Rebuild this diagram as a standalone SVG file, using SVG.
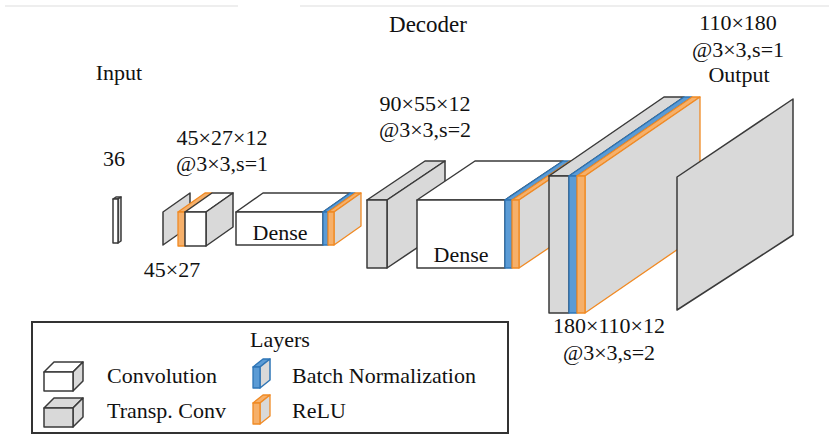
<svg xmlns="http://www.w3.org/2000/svg" width="829" height="443" viewBox="0 0 829 443">
<style>
text{font-family:"Liberation Serif","Times New Roman",serif;font-size:22px;fill:#111}
.w{fill:#fff;stroke:#3a3a3a;stroke-width:1.5;stroke-linejoin:round}
.g{fill:#d9d9d9;stroke:#3a3a3a;stroke-width:1.5;stroke-linejoin:round}
.b{fill:#5b9bd5;stroke:#2e75b6;stroke-width:1.3;stroke-linejoin:round}
.o{fill:#f6b06a;stroke:#f08a24;stroke-width:1.3;stroke-linejoin:round}
.og{fill:#d9d9d9;stroke:#f08a24;stroke-width:1.3;stroke-linejoin:round}
.m{text-anchor:middle}
</style>
<line x1="5" y1="6" x2="238" y2="6" stroke="#eeeeee" stroke-width="2"/>
<line x1="300" y1="6" x2="829" y2="6" stroke="#eeeeee" stroke-width="2"/>
<g id="title"><text x="428" y="32" class="m" style="font-size:23px">Decoder</text></g>

<g id="input">
<polygon class="w" points="113,199 116,197 121,197 118,199"/>
<polygon class="g" points="118,199 121,197 121,241 118,243"/>
<rect class="w" x="113" y="199" width="5" height="44"/>
<text x="119" y="80" class="m">Input</text>
<text x="114" y="166" class="m">36</text>
</g>

<g id="group1">
<polygon class="g" points="163,212 190,193 190,226 163,245"/>
<polygon class="o" points="178,212 185,212 212,193 205,193"/>
<rect class="o" x="178" y="212" width="7" height="34"/>
<polygon class="w" points="185,212 206,212 233,193 212,193"/>
<polygon class="g" points="206,212 233,193 233,227 206,246"/>
<rect class="w" x="185" y="212" width="21" height="34"/>
<text x="222" y="145" class="m">45×27×12</text>
<text x="222" y="171" class="m">@3×3,s=1</text>
<text x="172" y="277" class="m">45×27</text>
</g>

<g id="dense1">
<polygon class="w" points="236,212 323,212 350,193 263,193"/>
<rect class="w" x="236" y="212" width="87" height="33"/>
<polygon class="b" points="323,212 328,212 355,193 350,193"/>
<rect class="b" x="323" y="212" width="5" height="33"/>
<polygon class="o" points="328,212 334,212 361,193 355,193"/>
<polygon class="og" points="334,212 361,193 361,226 334,245"/>
<rect class="o" x="328" y="212" width="6" height="33"/>
<text x="280" y="240" class="m">Dense</text>
</g>

<g id="group2">
<polygon class="g" points="367,200 387,200 445,161 425,161"/>
<polygon class="g" points="387,200 445,161 445,229 387,268"/>
<rect class="g" x="367" y="200" width="20" height="68"/>
<text x="425" y="111" class="m">90×55×12</text>
<text x="425" y="137" class="m">@3×3,s=2</text>
</g>

<g id="dense2">
<polygon class="w" points="417,200 505,200 563,161 475,161"/>
<rect class="w" x="417" y="200" width="88" height="68"/>
<polygon class="b" points="505,200 512,200 570,161 563,161"/>
<rect class="b" x="505" y="200" width="7" height="68"/>
<polygon class="o" points="512,200 519,200 577,161 570,161"/>
<polygon class="og" points="519,200 577,161 577,229 519,268"/>
<rect class="o" x="512" y="200" width="7" height="68"/>
<text x="461" y="262" class="m">Dense</text>
</g>

<g id="group3">
<polygon class="g" points="549,176 569,176 684,97 664,97"/>
<rect class="g" x="549" y="176" width="20" height="137"/>
<polygon class="b" points="569,176 577,176 692,97 684,97"/>
<rect class="b" x="569" y="176" width="8" height="137"/>
<polygon class="o" points="577,176 585,176 700,97 692,97"/>
<polygon class="og" points="585,176 700,97 700,234 585,313"/>
<rect class="o" x="577" y="176" width="8" height="137"/>
<text x="609" y="333" class="m">180×110×12</text>
<text x="609" y="360" class="m">@3×3,s=2</text>
</g>

<g id="output">
<polygon class="g" points="677,177 793,99 793,235 677,310"/>
<text x="738" y="30" class="m">110×180</text>
<text x="738" y="57" class="m">@3×3,s=1</text>
<text x="739" y="82" class="m">Output</text>
</g>

<g id="legend">
<rect x="32" y="322" width="476" height="111" fill="#fff" stroke="#333" stroke-width="2"/>
<text x="280" y="347" class="m">Layers</text>
<polygon class="w" points="44,372 73,372 83,362 54,362"/>
<polygon class="g" points="73,372 83,362 83,381 73,391"/>
<rect class="w" x="44" y="372" width="29" height="19"/>
<text x="107" y="383">Convolution</text>
<polygon class="g" points="44,408 73,408 83,398 54,398"/>
<polygon class="g" points="73,408 83,398 83,417 73,427"/>
<rect class="g" x="44" y="408" width="29" height="19"/>
<text x="107" y="418">Transp. Conv</text>
<polygon class="b" points="253,367 260,367 270,359 263,359"/>
<polygon class="g" points="260,367 270,359 270,380 260,388" style="stroke:#2e75b6"/>
<rect class="b" x="253" y="367" width="7" height="21"/>
<text x="292" y="383">Batch Normalization</text>
<polygon class="o" points="253,403 260,403 270,395 263,395"/>
<polygon class="og" points="260,403 270,395 270,416 260,424"/>
<rect class="o" x="253" y="403" width="7" height="21"/>
<text x="292" y="418">ReLU</text>
</g>
</svg>
